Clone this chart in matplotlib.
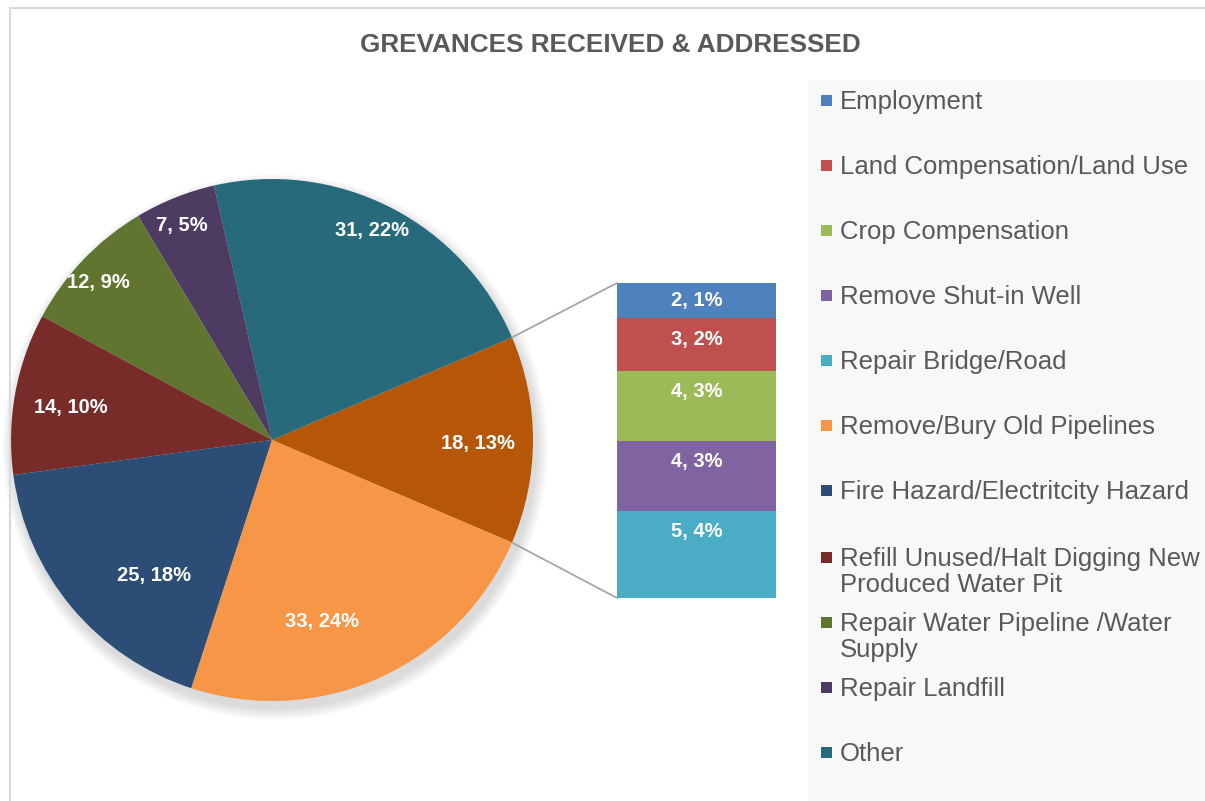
import matplotlib.pyplot as plt
from matplotlib.patches import Rectangle, Circle, ConnectionPatch
import numpy as np

# pie slices, counter-clockwise from the right; the first slice is split out into the bar
pie_names = ["Other (split)", "Other", "Repair Landfill", "Repair Water Pipeline /Water Supply",
             "Refill Unused/Halt Digging New Produced Water Pit",
             "Fire Hazard/Electritcity Hazard", "Remove/Bury Old Pipelines"]
pie_counts = [18, 31, 7, 12, 14, 25, 33]
pie_colors = ["#B65708", "#276A7C", "#4D3B62", "#5F7530", "#772C2A", "#2C4D75", "#F79646"]

# stacked bar, top to bottom
bar_names = ["Employment", "Land Compensation/Land Use", "Crop Compensation",
             "Remove Shut-in Well", "Repair Bridge/Road"]
bar_counts = [2, 3, 4, 4, 5]
bar_colors = ["#4F81BD", "#C0504D", "#9BBB59", "#8064A2", "#4BACC6"]

legend_names = ["Employment", "Land Compensation/Land Use", "Crop Compensation",
                "Remove Shut-in Well", "Repair Bridge/Road", "Remove/Bury Old Pipelines",
                "Fire Hazard/Electritcity Hazard",
                "Refill Unused/Halt Digging New\nProduced Water Pit",
                "Repair Water Pipeline /Water\nSupply", "Repair Landfill", "Other"]
legend_colors = bar_colors + ["#F79646", "#2C4D75", "#772C2A", "#5F7530", "#4D3B62", "#276A7C"]

total = sum(pie_counts)

W, H = 1205, 801
fig = plt.figure(figsize=(W / 100, H / 100), dpi=100, facecolor="white")
ax = fig.add_axes([0, 0, 1, 1])

cx, cy, R = 272, H - 440, 261

# soft drop shadow under the pie
for k in range(12):
    ax.add_patch(Circle((cx + 3, cy - 7), R + 12 - k, color="black", alpha=0.011, lw=0, zorder=0))

start = -pie_counts[0] / total * 360 / 2
wedges, _ = ax.pie(pie_counts, colors=pie_colors, startangle=start, counterclock=True,
                   center=(cx, cy), radius=R, wedgeprops=dict(linewidth=0), normalize=True)
for w in wedges:
    w.set_zorder(2)

# label radius (fraction of R) and angle nudge for each slice
lab_r = [0.79, 0.89, 0.89, 0.90, 0.78, 0.69, 0.72]
lab_da = [-1, 1.5, 1, 1.5, 1, 9, -9]
for w, v, r, da in zip(wedges, pie_counts, lab_r, lab_da):
    a = np.deg2rad((w.theta1 + w.theta2) / 2 + da)
    ax.text(cx + r * R * np.cos(a), cy + r * R * np.sin(a),
            f"{v}, {round(v / total * 100)}%", ha="center", va="center",
            color="white", fontsize=14.5, fontweight="bold", family="Liberation Sans", zorder=3)

# legend panel
ax.add_patch(Rectangle((808, 0), W - 808, H - 80, facecolor="#F8F8F8", edgecolor="none", zorder=0))
legend_y = [100, 165, 230, 295, 360, 425, 490, 557, 622, 687, 752]
for name, col, y in zip(legend_names, legend_colors, legend_y):
    ax.add_patch(Rectangle((821, H - y - 5.5), 11, 11, facecolor=col, edgecolor="none", zorder=3))
    ax.text(840, H - y + 10, name, ha="left", va="top", fontsize=18.5, color="#595959",
            family="Liberation Sans", linespacing=1.1, zorder=3)

# chart border
ax.add_patch(Rectangle((10, -10), W, H - 8 + 10, facecolor="none", edgecolor="#D9D9D9", lw=1.5, zorder=1))

ax.set_xlim(0, W)
ax.set_ylim(0, H)
ax.axis("off")

# bar of the split slice
bx = fig.add_axes([617 / W, (H - 598) / H, 159 / W, 315 / H])
bar_total = sum(bar_counts)
bottoms = bar_total - np.cumsum(bar_counts)
bx.bar(0, bar_counts, bottom=bottoms, width=1, color=bar_colors, linewidth=0)
for v, b in zip(bar_counts, bottoms):
    top = b + v
    bx.text(0, top - min(1.2, v / 2), f"{v}, {round(v / total * 100)}%", ha="center", va="center",
            color="white", fontsize=14.5, fontweight="bold", family="Liberation Sans")
bx.set_xlim(-0.5, 0.5)
bx.set_ylim(0, bar_total)
bx.axis("off")

# connector lines from the split slice to the bar
w0 = wedges[0]
for ang, yb in [(w0.theta2, bar_total), (w0.theta1, 0)]:
    a = np.deg2rad(ang)
    con = ConnectionPatch(xyA=(cx + R * np.cos(a), cy + R * np.sin(a)), coordsA=ax.transData,
                          xyB=(-0.5, yb), coordsB=bx.transData, color="#A6A6A6", lw=1.3)
    fig.add_artist(con)

fig.text(610 / W, 1 - 45 / H, "GREVANCES RECEIVED & ADDRESSED", ha="center", va="center",
         fontsize=18.8, fontweight="bold", color="#595959", family="Liberation Sans")

fig.savefig("out.png", dpi=100, facecolor="white")
